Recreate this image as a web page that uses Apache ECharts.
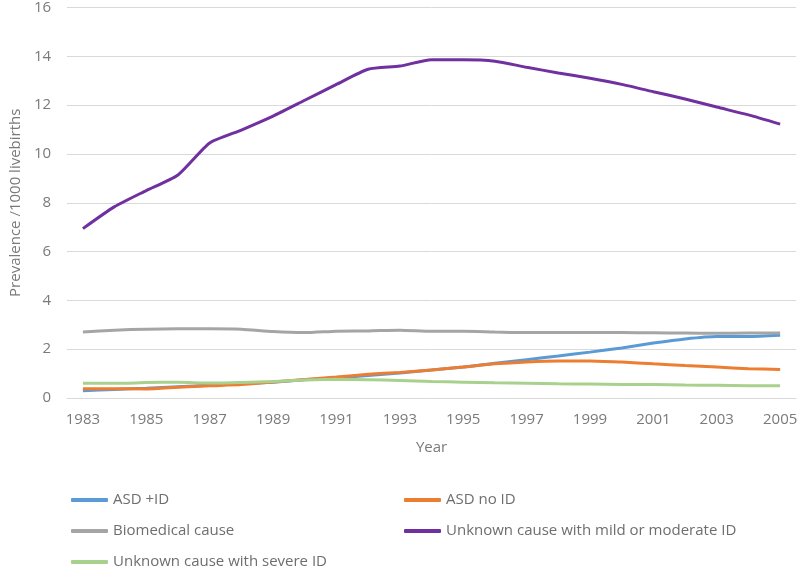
<!DOCTYPE html>
<html><head><meta charset="utf-8">
<script src="https://cdn.jsdelivr.net/npm/echarts@6/dist/echarts.min.js"></script>
<style>html,body{margin:0;padding:0;background:#fff}#c{width:800px;height:568px}</style>
</head><body><div id="c"></div>
<script>
const years = ['1983','1984','1985','1986','1987','1988','1989','1990','1991','1992','1993','1994','1995','1996','1997','1998','1999','2000','2001','2002','2003','2004','2005'];
const asdId = [0.30,0.35,0.40,0.46,0.52,0.58,0.65,0.75,0.82,0.92,1.02,1.15,1.27,1.42,1.57,1.72,1.88,2.05,2.25,2.42,2.52,2.52,2.57];
const asdNoId = [0.38,0.38,0.37,0.44,0.50,0.55,0.66,0.76,0.86,0.97,1.05,1.15,1.27,1.40,1.48,1.52,1.52,1.47,1.40,1.33,1.27,1.20,1.17];
const biomedical = [2.70,2.78,2.82,2.84,2.84,2.82,2.72,2.68,2.74,2.75,2.78,2.73,2.73,2.70,2.68,2.68,2.68,2.68,2.67,2.66,2.65,2.66,2.66];
const unknownMild = [6.94,7.84,8.50,9.14,10.45,10.98,11.55,12.20,12.85,13.47,13.60,13.86,13.86,13.80,13.55,13.32,13.10,12.85,12.55,12.25,11.92,11.60,11.22];
const unknownSevere = [0.60,0.60,0.63,0.65,0.61,0.64,0.68,0.74,0.77,0.75,0.72,0.68,0.65,0.62,0.60,0.58,0.57,0.55,0.55,0.53,0.52,0.50,0.50];
const seriesNames = ['ASD +ID','ASD no ID','Biomedical cause','Unknown cause with mild or moderate ID','Unknown cause with severe ID'];
const colors = ['#5b9bd5','#ed7d31','#a5a5a5','#7030a0','#a9d18e'];
const yTicks = [0,2,4,6,8,10,12,14,16];

const font = 'Open Sans';
const dataArr = [asdId, asdNoId, biomedical, unknownMild, unknownSevere];
const legendBase = {orient:'vertical',top:485,height:120,itemGap:11,itemWidth:37,itemHeight:4,icon:'roundRect',
  textStyle:{color:'#6e6e6e',fontSize:15,fontFamily:font,lineHeight:20}};
const chart = echarts.init(document.getElementById('c'), null, {renderer:'canvas'});
chart.setOption({
  animation:false,
  color: colors,
  grid:{left:57,right:0,top:6,bottom:170,containLabel:false},
  xAxis:{type:'category',data:years,boundaryGap:true,
    name:'Year',nameLocation:'middle',nameGap:42,
    nameTextStyle:{color:'#7a7a7a',fontSize:15,fontFamily:font},
    axisLine:{show:true,lineStyle:{color:'#d9d9d9'}},axisTick:{show:false},
    axisLabel:{interval:1,color:'#7a7a7a',fontSize:15,fontFamily:font,margin:14}},
  yAxis:{type:'value',min:yTicks[0],max:yTicks[yTicks.length-1],interval:2,
    name:'Prevalence /1000 livebirths',nameLocation:'middle',nameGap:44,
    nameTextStyle:{color:'#7a7a7a',fontSize:15,fontFamily:font},
    axisLine:{show:false},axisTick:{show:false},
    splitLine:{lineStyle:{color:'#d9d9d9'}},
    axisLabel:{color:'#7a7a7a',fontSize:15,fontFamily:font,margin:16}},
  legend:[
    Object.assign({left:66,data:[seriesNames[0],seriesNames[2],seriesNames[4]]}, legendBase),
    Object.assign({left:399,data:[seriesNames[1],seriesNames[3]]}, legendBase)
  ],
  series: seriesNames.map((n,i)=>({name:n,type:'line',data:dataArr[i],
    symbol:'none',smooth:0.2,lineStyle:{width:3,color:colors[i]},itemStyle:{color:colors[i]}}))
});
</script></body></html>
